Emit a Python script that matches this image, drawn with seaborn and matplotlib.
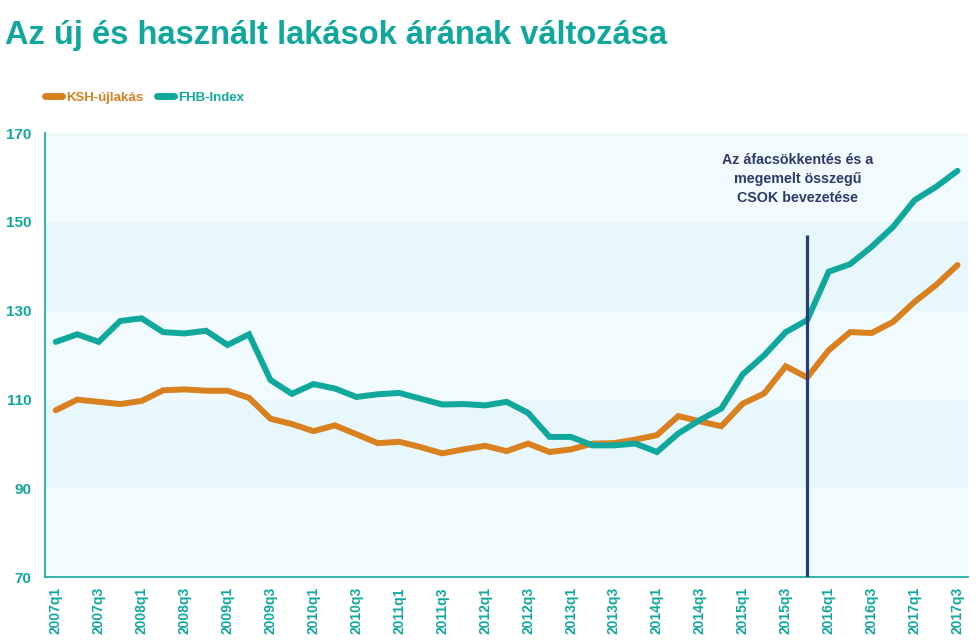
import numpy as np
import pandas as pd
import matplotlib.pyplot as plt
import seaborn as sns
from matplotlib.lines import Line2D

TEAL = '#10A89D'
ORANGE = '#D9801F'
NAVY = '#263B78'
NOTE_COLOR = '#2D3A6C'
BAND_LIGHT = '#F1FBFE'
BAND_DARK = '#E7F7FC'

# Data
years = range(2007, 2018)
quarters = [f'{y}q{q}' for y in years for q in range(1, 5)][:43]  # 2007q1 .. 2017q3

ksh_ujlakas = [107.6, 110.0, 109.5, 109.0, 109.7, 112.1, 112.3, 112.0, 112.0, 110.4,
               105.7, 104.5, 102.9, 104.2, 102.2, 100.2, 100.5, 99.3, 97.9, 98.8,
               99.6, 98.4, 100.1, 98.2, 98.8, 100.1, 100.2, 101.0, 102.0, 106.3,
               105.1, 104.0, 109.1, 111.4, 117.5, 115.0, 121.1, 125.2, 125.0, 127.5,
               132.0, 135.8, 140.3]
fhb_index = [123.0, 124.7, 123.0, 127.7, 128.3, 125.2, 124.9, 125.5, 122.3, 124.7,
             114.4, 111.3, 113.5, 112.5, 110.6, 111.2, 111.5, 110.2, 108.9, 109.0,
             108.7, 109.5, 107.0, 101.6, 101.6, 99.7, 99.7, 100.1, 98.2, 102.4,
             105.4, 108.0, 115.7, 120.0, 125.2, 127.9, 138.8, 140.5, 144.4, 148.9,
             154.9, 157.9, 161.5]

series_names = ['KSH-újlakás', 'FHB-Index']
series_colors = [ORANGE, TEAL]
y_ticks = [70, 90, 110, 130, 150, 170]
event_quarter = '2015q4'
event_top = 147
event_note = 'Az áfacsökkentés és a\nmegemelt összegű\nCSOK bevezetése'
title = 'Az új és használt lakások árának változása'

df = pd.DataFrame({
    'pos': list(range(len(quarters))) * 2,
    'value': ksh_ujlakas + fhb_index,
    'series': [series_names[0]] * len(quarters) + [series_names[1]] * len(quarters),
})

sns.set_theme(style='white')
plt.rcParams['font.family'] = ['Liberation Sans', 'DejaVu Sans']
plt.rcParams['font.weight'] = 'bold'

fig = plt.figure(figsize=(9.79, 6.40), dpi=100)
ax = fig.add_axes([0.046, 0.098, 0.943, 0.694])

# alternating horizontal bands
for i, (lo, hi) in enumerate(zip(y_ticks[:-1], y_ticks[1:])):
    ax.axhspan(lo, hi, color=BAND_DARK if i % 2 == 1 else BAND_LIGHT, lw=0, zorder=0)

sns.lineplot(data=df, x='pos', y='value', hue='series', hue_order=series_names,
             palette=dict(zip(series_names, series_colors)), linewidth=4.3,
             legend=False, ax=ax, zorder=3)
for ln in ax.get_lines():
    ln.set_solid_capstyle('round')
    ln.set_solid_joinstyle('miter')

ev = quarters.index(event_quarter)
ax.vlines(ev, y_ticks[0], event_top, color=NAVY, lw=2.3, zorder=4)
ax.text(ev - 0.45, 165.5, event_note, ha='center', va='top', color=NOTE_COLOR,
        fontsize=10.3, fontweight='bold', linespacing=1.45)

ax.set_xlim(-0.5, len(quarters) - 0.5)
ax.set_ylim(y_ticks[0], y_ticks[-1])
ax.set_yticks(y_ticks)
ax.set_xticks(range(0, len(quarters), 2))
ax.set_xticklabels(quarters[::2], rotation=90)
ax.tick_params(axis='both', length=0, colors=TEAL)
ax.tick_params(axis='y', pad=10, labelsize=11)
ax.tick_params(axis='x', pad=7, labelsize=10)
for lab in ax.get_xticklabels() + ax.get_yticklabels():
    lab.set_fontweight('bold')
ax.set_xlabel('')
ax.set_ylabel('')
for side in ['top', 'right']:
    ax.spines[side].set_visible(False)
for side in ['left', 'bottom']:
    ax.spines[side].set_color(TEAL)
    ax.spines[side].set_linewidth(1.2)

handles = [Line2D([0], [0], color=c, lw=5, solid_capstyle='round') for c in series_colors]
fig.legend(handles, series_names, loc='center left', bbox_to_anchor=(0.034, 0.847),
           ncol=2, frameon=False, handlelength=1.3, handletextpad=0.3,
           columnspacing=1.0, labelcolor=series_colors,
           prop={'weight': 'bold', 'size': 9.5})

fig.text(0.005, 0.945, title, ha='left', va='center', color=TEAL,
         fontsize=23.5, fontweight='bold')

fig.savefig('out.png', dpi=100, facecolor='white')
